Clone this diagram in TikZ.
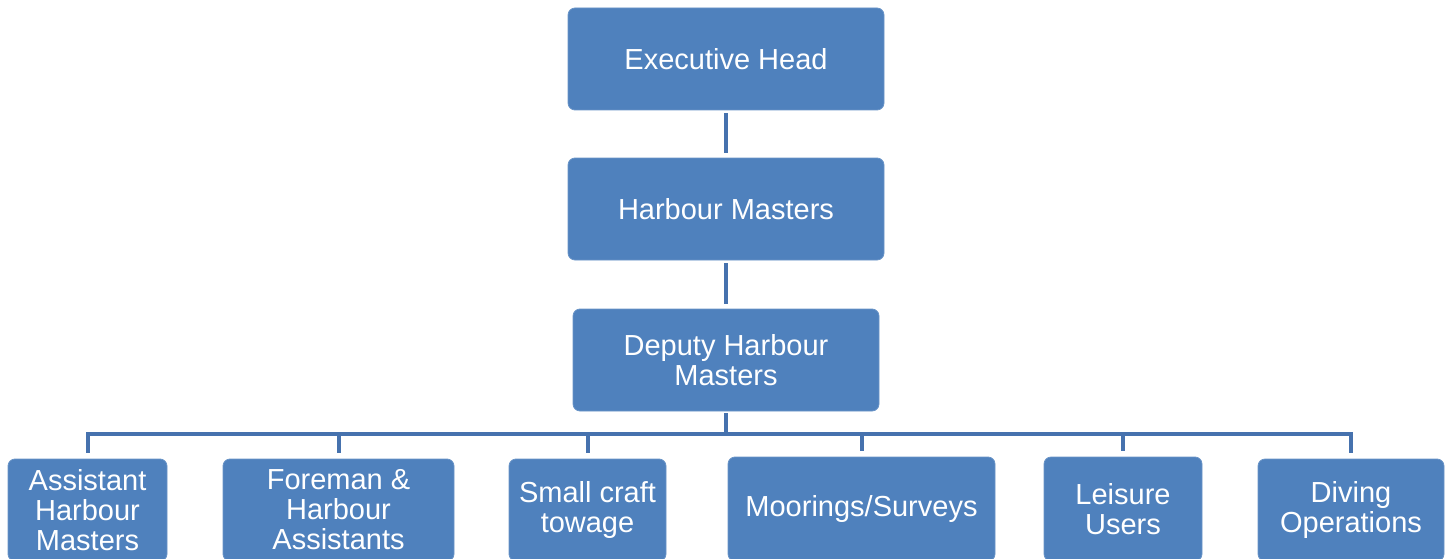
\documentclass[tikz,border=0pt]{standalone}
\usepackage{fontspec}
\setmainfont{Liberation Sans}
\definecolor{boxblue}{HTML}{4F81BD}
\definecolor{lineblue}{HTML}{4672AE}
\begin{document}
\begin{tikzpicture}[x=1pt,y=-1pt,
  box/.style={fill=boxblue, draw=boxblue!85!white, line width=0.8pt, rounded corners=7pt, text=white, align=center,
    font=\fontsize{29}{30}\selectfont, inner sep=0pt},
  conn/.style={draw=lineblue, line width=4pt}]
\useasboundingbox (0,0) rectangle (1448,559);
\node[box, minimum width=316, minimum height=102] (exec) at (726,59) {Executive Head};
\node[box, minimum width=316, minimum height=102] (hm) at (726,209) {Harbour Masters};
\node[box, minimum width=306, minimum height=102] (dep) at (726,360) {Deputy Harbour\\Masters};
\node[box, minimum width=159, minimum height=102] (ahm) at (87.5,510) {Assistant\\Harbour\\Masters};
\node[box, minimum width=231, minimum height=102] (fha) at (338.5,510) {Foreman \&\\Harbour\\Assistants};
\node[box, minimum width=157, minimum height=102] (sct) at (587.5,510) {Small craft\\towage};
\node[box, minimum width=267, minimum height=104] (ms) at (861.5,509) {Moorings/Surveys};
\node[box, minimum width=158, minimum height=104] (lu) at (1123,509) {Leisure\\Users};
\node[box, minimum width=186, minimum height=102] (dop) at (1351,510) {Diving\\Operations};
\coordinate (bus) at (726,434);
\draw[conn, shorten <=3pt, shorten >=5pt] (exec) -- (hm);
\draw[conn, shorten <=3pt, shorten >=5pt] (hm) -- (dep);
\draw[conn, shorten <=2pt] (dep.south) -- (bus);
\draw[conn, line cap=rect] (ahm.north |- bus) -- (dop.north |- bus);
\foreach \c in {ahm,fha,sct,ms,lu,dop}{
  \draw[conn, shorten <=6pt] (\c.north) -- (\c.north |- bus);
}
\end{tikzpicture}
\end{document}
